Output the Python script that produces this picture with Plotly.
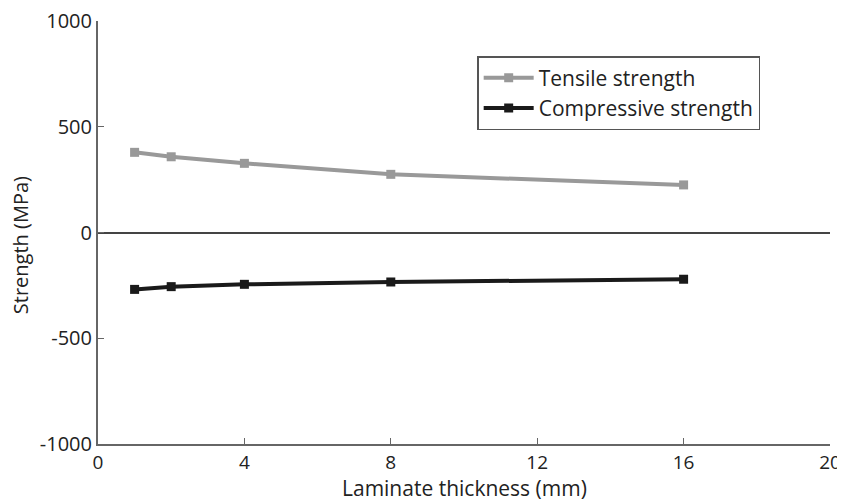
import plotly.graph_objects as go

thickness = [1, 2, 4, 8, 16]
tensile = [379, 358, 327, 275, 225]
compressive = [-269, -256, -245, -234, -221]
y_ticks = [-1000, -500, 0, 500, 1000]
y_labels = ["-1000", "-500", "0", "500", "1000"]

font = "Open Sans, Lato, sans-serif"

fig = go.Figure()
fig.add_trace(go.Scatter(x=thickness, y=tensile, name="Tensile strength", mode="lines+markers",
                         line=dict(color="#999999", width=4),
                         marker=dict(symbol="square", size=9, color="#999999")))
fig.add_trace(go.Scatter(x=thickness, y=compressive, name="Compressive strength", mode="lines+markers",
                         line=dict(color="#1a1a1a", width=4),
                         marker=dict(symbol="square", size=9, color="#1a1a1a")))

# page body has an 8px margin, so the figure is shifted to compensate
fig.update_layout(
    width=845, height=502,
    margin=dict(l=90, r=23, t=13, b=66),
    plot_bgcolor="white", paper_bgcolor="white",
    font=dict(family=font, size=19, color="#222222"),
    legend=dict(x=0.518, y=0.917, xanchor="left", yanchor="top",
                bordercolor="#555555", borderwidth=1.5,
                font=dict(size=21), itemwidth=50, tracegroupgap=0),
    xaxis=dict(range=[0, 20], tickvals=[0, 4, 8, 12, 16, 20], showgrid=False, zeroline=False,
               showline=True, linecolor="#666666", linewidth=2, automargin=False,
               ticks="inside", ticklen=6, tickcolor="#666666", tickfont=dict(size=19),
               ticklabeloverflow="allow"),
    yaxis=dict(range=[-1000, 1000], tickvals=y_ticks, ticktext=y_labels, showgrid=False,
               zeroline=True, zerolinecolor="#444444", zerolinewidth=1.5,
               showline=True, linecolor="#666666", linewidth=2, automargin=False,
               ticks="inside", ticklen=6, tickcolor="#666666", tickfont=dict(size=20),
               ticklabeloverflow="allow"),
)

# axis titles as annotations so they sit where the reference has them
fig.add_annotation(text="Laminate thickness (mm)", xref="paper", yref="paper", x=0.5, y=-0.104,
                   xanchor="center", yanchor="middle", showarrow=False, font=dict(size=21))
fig.add_annotation(text="Strength (MPa)", xref="paper", yref="paper", x=-0.1066, y=0.47,
                   xanchor="center", yanchor="middle", textangle=-90, showarrow=False,
                   font=dict(size=20))

fig.write_html("out.html")
